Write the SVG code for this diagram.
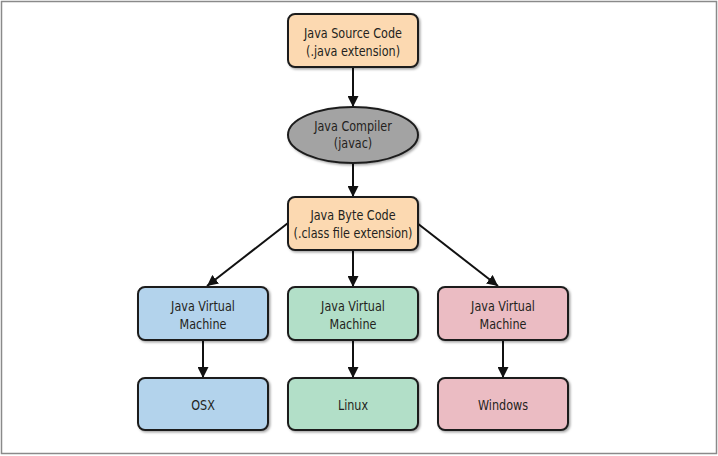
<svg xmlns="http://www.w3.org/2000/svg" width="718" height="456" viewBox="0 0 718 456">
<style>
.box{stroke:#1e1e1e;stroke-width:2;filter:url(#sh)}
.peach{fill:#fcd9b1}
.gray{fill:#a3a3a3}
.blue{fill:#b3d3ec}
.green{fill:#b2dfc8}
.pink{fill:#ebbcc3}
text{font-family:"DejaVu Sans Condensed","DejaVu Sans",sans-serif;font-stretch:condensed;font-size:14.5px;fill:#231f20;text-anchor:middle}
.edge{stroke:#111;stroke-width:2;fill:none;marker-end:url(#ah)}
</style>
<defs>
<marker id="ah" viewBox="0 0 10 10" refX="10" refY="5" markerWidth="5.5" markerHeight="5.5" orient="auto" markerUnits="strokeWidth">
<path d="M0,0 L10,5 L0,10 z" fill="#111"/>
</marker>
<filter id="sh" x="-10%" y="-10%" width="125%" height="130%">
<feDropShadow dx="1.5" dy="1.5" stdDeviation="1.2" flood-color="#000" flood-opacity="0.35"/>
</filter>
</defs>
<rect x="1.5" y="1.5" width="715" height="452" fill="#fff" stroke="#8a8a8a" stroke-width="1.5"/>
<g id="connectors">
<line class="edge" x1="353" y1="68" x2="353" y2="107"/>
<line class="edge" x1="353" y1="163" x2="353" y2="197"/>
<line class="edge" x1="288" y1="223" x2="207" y2="286"/>
<line class="edge" x1="353" y1="250" x2="353" y2="287"/>
<line class="edge" x1="417" y1="223" x2="498" y2="286"/>
<line class="edge" x1="203" y1="340" x2="203" y2="378"/>
<line class="edge" x1="353" y1="340" x2="353" y2="378"/>
<line class="edge" x1="503" y1="340" x2="503" y2="378"/>
</g>
<g id="source">
<rect class="box peach" x="288" y="14" width="130" height="53" rx="7"/>
<text transform="translate(353 38) scale(0.86 1)">Java Source Code</text>
<text transform="translate(353 56) scale(0.86 1)">(.java extension)</text>
</g>
<g id="compiler">
<ellipse class="box gray" cx="353" cy="135" rx="65" ry="28"/>
<text transform="translate(353 131) scale(0.86 1)">Java Compiler</text>
<text transform="translate(353 148) scale(0.86 1)">(javac)</text>
</g>
<g id="bytecode">
<rect class="box peach" x="288" y="197" width="130" height="53" rx="7"/>
<text transform="translate(353 220) scale(0.86 1)">Java Byte Code</text>
<text transform="translate(353 238) scale(0.86 1)">(.class file extension)</text>
</g>
<g id="jvm-osx">
<rect class="box blue" x="138" y="287" width="130" height="53" rx="7"/>
<text transform="translate(203 311) scale(0.86 1)">Java Virtual</text>
<text transform="translate(203 329) scale(0.86 1)">Machine</text>
</g>
<g id="jvm-linux">
<rect class="box green" x="288" y="287" width="130" height="53" rx="7"/>
<text transform="translate(353 311) scale(0.86 1)">Java Virtual</text>
<text transform="translate(353 329) scale(0.86 1)">Machine</text>
</g>
<g id="jvm-windows">
<rect class="box pink" x="438" y="287" width="130" height="53" rx="7"/>
<text transform="translate(503 311) scale(0.86 1)">Java Virtual</text>
<text transform="translate(503 329) scale(0.86 1)">Machine</text>
</g>
<g id="osx">
<rect class="box blue" x="138" y="378" width="130" height="52" rx="7"/>
<text transform="translate(203 410) scale(0.86 1)">OSX</text>
</g>
<g id="linux">
<rect class="box green" x="288" y="378" width="130" height="52" rx="7"/>
<text transform="translate(353 410) scale(0.86 1)">Linux</text>
</g>
<g id="windows">
<rect class="box pink" x="438" y="378" width="130" height="52" rx="7"/>
<text transform="translate(503 410) scale(0.86 1)">Windows</text>
</g>
</svg>
